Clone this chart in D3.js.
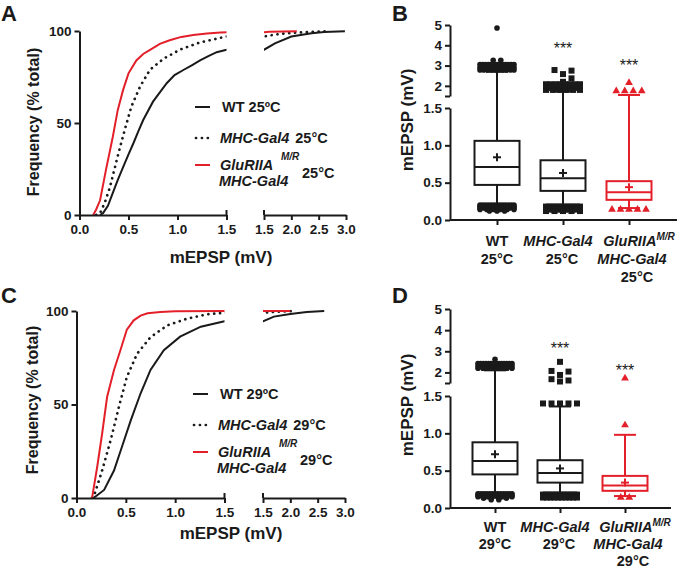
<!DOCTYPE html>
<html><head><meta charset="utf-8">
<script src="https://cdn.jsdelivr.net/npm/d3@7"></script>
<style>
body{margin:0;background:#fff}
svg{display:block}
</style>
</head><body>
<svg id="c" width="682" height="571"></svg>
<script>
// ---------------- DATA ----------------
// cumulative frequency curves: [mEPSP (mV), cumulative %]
const wtA  = [[0.21,0],[0.24,1],[0.29,5],[0.34,12],[0.39,19],[0.445,26],[0.5,33],[0.55,39],[0.6,45.5],[0.65,51.6],[0.75,61.6],[0.89,71.6],[0.97,76],[1.06,78.8],[1.15,81.5],[1.23,84],[1.32,86.5],[1.40,88.5],[1.5,89.8],[1.7,93.3],[2.0,97],[2.37,98.8],[2.6,99.5],[2.98,99.8]];
const mhcA = [[0.17,0],[0.21,1],[0.26,7],[0.31,15],[0.39,32],[0.46,46],[0.53,59],[0.62,70],[0.72,79],[0.86,85],[1.03,90],[1.23,93.8],[1.5,97],[1.8,98.5],[2.2,99.3],[2.65,99.8]];
const gluA = [[0.14,0],[0.17,3],[0.21,8],[0.27,24.5],[0.34,42.5],[0.39,57],[0.445,68],[0.50,77],[0.58,84],[0.65,87.5],[0.72,89.7],[0.82,93],[0.92,95],[1.04,96.8],[1.16,97.8],[1.3,98.6],[1.44,99.2],[1.6,99.6],[2.1,99.8]];
const wtC  = [[0.17,0],[0.19,0.7],[0.28,4.3],[0.38,14.7],[0.46,27.3],[0.55,41.5],[0.65,56],[0.75,68.5],[0.885,79],[1.05,86.3],[1.26,91.6],[1.5,94.5],[1.7,97],[2.0,98.4],[2.3,99.5],[2.62,100]];
const mhcC = [[0.16,0],[0.175,0.7],[0.26,14.7],[0.345,30.7],[0.43,48.7],[0.51,64.7],[0.615,77.2],[0.75,86],[0.92,92.3],[1.12,95.9],[1.32,98.2],[1.49,99],[1.7,99.5],[2.1,100]];
const gluC = [[0.15,0],[0.16,0.7],[0.21,16.7],[0.26,34.5],[0.31,54],[0.38,68.5],[0.445,79],[0.51,90],[0.58,95],[0.65,97.5],[0.72,98.8],[0.85,99.5],[1.0,99.8],[1.5,100],[2.0,100]];

const cdfTicks1 = [0, 0.5, 1.0, 1.5];
const cdfTicks2 = [1.5, 2.0, 2.5, 3.0];
const freqTicks = [0, 50, 100];

// box plots: [low whisker, Q1, median, Q3, high whisker]
const boxCats = ["WT", "MHC", "GluRIIA"];
const boxLowTicks = [0, 0.5, 1.0, 1.5];
const boxHighTicks = [1.5, 2, 3, 4, 5];

const wtB_box  = [0.20, 0.47, 0.71, 1.06, 2.70];  const wtB_mean  = 0.84;
const mhcB_box = [0.19, 0.39, 0.56, 0.80, 1.72];  const mhcB_mean = 0.63;
const gluB_box = [0.16, 0.27, 0.37, 0.52, 1.55];  const gluB_mean = 0.44;
const wtD_box  = [0.20, 0.45, 0.63, 0.88, 2.10];  const wtD_mean  = 0.72;
const mhcD_box = [0.18, 0.34, 0.47, 0.64, 1.36];  const mhcD_mean = 0.53;
const gluD_box = [0.16, 0.23, 0.30, 0.43, 0.98];  const gluD_mean = 0.34;

// outliers: [value, number of points at that value]
const wtB_out  = [[0.20,13],[0.18,12],[0.16,9],[0.14,6],[0.12,3],[2.78,10],[2.9,13],[3.05,13],[3.26,2],[4.85,1]];
const mhcB_out = [[0.18,12],[0.16,12],[0.14,10],[0.12,5],[1.8,6],[1.9,10],[2.0,12],[2.08,8],[2.2,1],[2.37,1],[2.58,1],[2.75,1],[2.78,1]];
const gluB_out = [[0.14,5],[1.75,4],[2.15,1]];
const wtD_out  = [[0.19,13],[0.17,12],[0.15,8],[0.13,4],[0.11,2],[2.2,8],[2.3,12],[2.42,14],[2.62,1]];
const mhcD_out = [[0.18,12],[0.16,12],[0.14,10],[1.4,5],[1.57,1],[1.62,1],[1.68,1],[1.88,1],[2.04,1],[2.07,1],[2.5,1]];
const gluD_out = [[0.14,2],[1.11,1],[1.72,1]];

// ---------------- DRAWING ----------------
const FONT = "'Liberation Sans', Arial, Helvetica, sans-serif";
const INK = "#1a1a1a";
const RED = "#e3202a";
const svg = d3.select("#c");
const defs = svg.append("defs");

function styleAxis(g, fs) {
  g.attr("font-family", FONT).attr("font-size", fs || 13).attr("font-weight", "bold");
  g.select(".domain").attr("stroke", INK).attr("stroke-width", 2);
  g.selectAll(".tick line").attr("stroke", INK).attr("stroke-width", 2);
  g.selectAll(".tick text").attr("fill", INK);
}
function txt(g, x, y, s, o) {
  o = o || {};
  return g.append("text").attr("x", x).attr("y", y).text(s)
    .attr("font-family", FONT).attr("font-weight", o.weight || "bold")
    .attr("font-size", o.size || 13).attr("fill", o.fill || INK)
    .attr("font-style", o.italic ? "italic" : null)
    .attr("text-anchor", o.anchor || "start");
}

function cdfPanel(p) {
  const g = svg.append("g");
  const xs1 = d3.scaleLinear().domain([0, 1.5]).range(p.x1);
  const xs2 = d3.scaleLinear().domain([1.5, 3.0]).range(p.x2);
  const ys = d3.scaleLinear().domain([0, 100]).range(p.y);
  [[p.id + "a", p.x1], [p.id + "b", p.x2]].forEach(([id, r]) => {
    defs.append("clipPath").attr("id", id).append("rect")
      .attr("x", r[0]).attr("y", p.y[1] - 6).attr("width", r[1] - r[0]).attr("height", p.y[0] - p.y[1] + 6);
  });
  const series = [
    {data: p.mhc, color: INK, dash: "0.1,5.8"},
    {data: p.wt, color: INK},
    {data: p.glu, color: RED}
  ];
  series.forEach(s => {
    [[xs1, p.id + "a"], [xs2, p.id + "b"]].forEach(([xs, id]) => {
      g.append("path").datum(s.data)
        .attr("clip-path", `url(#${id})`)
        .attr("d", d3.line().x(d => xs(d[0])).y(d => ys(d[1])))
        .attr("fill", "none").attr("stroke", s.color)
        .attr("stroke-width", s.dash ? 2.7 : 2)
        .attr("stroke-dasharray", s.dash || null)
        .attr("stroke-linecap", s.dash ? "round" : "butt");
    });
  });
  // axes
  const ya = g.append("g").attr("transform", `translate(${p.x1[0]},0)`)
    .call(d3.axisLeft(ys).tickValues(freqTicks).tickSize(5).tickSizeOuter(0).tickPadding(3));
  styleAxis(ya, 13.5);
  const xa1 = g.append("g").attr("transform", `translate(0,${p.y[0]})`)
    .call(d3.axisBottom(xs1).tickValues(cdfTicks1).tickFormat(d3.format(".1f")).tickSize(5).tickSizeOuter(0).tickPadding(4));
  styleAxis(xa1, 13.5);
  const xa2 = g.append("g").attr("transform", `translate(0,${p.y[0]})`)
    .call(d3.axisBottom(xs2).tickValues(cdfTicks2).tickFormat(d3.format(".1f")).tickSize(5).tickSizeOuter(0).tickPadding(4));
  styleAxis(xa2, 13.5);
  [xs1(1.5), xs2(1.5)].forEach(x => {
    g.append("line").attr("x1", x).attr("x2", x).attr("y1", p.y[0] - 5).attr("y2", p.y[0])
      .attr("stroke", INK).attr("stroke-width", 2);
  });
  // titles
  txt(g, 0, 0, "Frequency (% total)", {size: 16, anchor: "middle"})
    .attr("transform", `translate(${p.ylab[0]},${p.ylab[1]}) rotate(-90)`);
  txt(g, p.xlab[0], p.xlab[1], "mEPSP (mV)", {size: 17, anchor: "middle"});
  txt(g, p.letter[0], p.letter[1], p.letter[2], {size: 22});
  // legend
  const ox = p.leg[0], oy = p.leg[1], T = p.temp;
  g.append("line").attr("x1", ox).attr("x2", ox + 15).attr("y1", oy).attr("y2", oy).attr("stroke", INK).attr("stroke-width", 2);
  g.append("line").attr("x1", ox + 1).attr("x2", ox + 15).attr("y1", oy + 31).attr("y2", oy + 31)
    .attr("stroke", INK).attr("stroke-width", 2.7).attr("stroke-dasharray", "0.1,5.8").attr("stroke-linecap", "round");
  g.append("line").attr("x1", ox).attr("x2", ox + 15).attr("y1", oy + 58).attr("y2", oy + 58).attr("stroke", RED).attr("stroke-width", 2);
  txt(g, ox + 27, oy + 5, "WT " + T + "ºC", {size: 14.5});
  const t2 = txt(g, ox + 25, oy + 36, "", {size: 14.5});
  t2.append("tspan").attr("font-style", "italic").text("MHC-Gal4");
  t2.append("tspan").attr("dx", 6).text(T + "°C");
  txt(g, ox + 25, oy + 63, "GluRIIA", {size: 14.5, italic: true});
  txt(g, ox + 86, oy + 53, "M/R", {size: 10, italic: true});
  txt(g, ox + 24, oy + 79, "MHC-Gal4", {size: 14.5, italic: true});
  txt(g, ox + 107, oy + 71, T + "°C", {size: 14.5});
}

function boxPanel(p) {
  const g = svg.append("g");
  const xs = d3.scalePoint().domain(boxCats).range(p.xr);
  const yl = d3.scaleLinear().domain([0, 1.5]).range(p.yl);
  const yu = d3.scaleLinear().domain([1.5, 5]).range(p.yu);
  const yf = v => v <= 1.5 ? yl(v) : yu(v);
  const ax = p.ax;
  const la = g.append("g").attr("transform", `translate(${ax},0)`)
    .call(d3.axisLeft(yl).tickValues(boxLowTicks).tickFormat(d3.format(".1f")).tickSize(5).tickSizeOuter(0).tickPadding(3));
  styleAxis(la, 13.5);
  const ua = g.append("g").attr("transform", `translate(${ax},0)`)
    .call(d3.axisLeft(yu).tickValues(boxHighTicks).tickFormat(d => d === 1.5 ? "" : d).tickSize(5).tickSizeOuter(0).tickPadding(3));
  styleAxis(ua, 13.5);
  const xa = g.append("g").attr("transform", `translate(0,${yl(0)})`)
    .call(d3.axisBottom(xs).tickSize(5).tickFormat(""));
  xa.select(".domain").remove();
  styleAxis(xa, 13);
  g.append("line").attr("x1", ax).attr("x2", p.xEnd).attr("y1", yl(0)).attr("y2", yl(0)).attr("stroke", INK).attr("stroke-width", 2);

  const bw = 45, cw = 22, maxW = 34;
  p.series.forEach(s => {
    const cx = xs(s.cat), c = s.color, b = s.box;
    const sg = g.append("g").attr("stroke", c).attr("stroke-width", 2).attr("fill", "none");
    sg.append("line").attr("x1", cx).attr("x2", cx).attr("y1", yf(b[3])).attr("y2", yf(b[4]));
    sg.append("line").attr("x1", cx).attr("x2", cx).attr("y1", yf(b[1])).attr("y2", yf(b[0]));
    [b[0], b[4]].forEach(v => sg.append("line").attr("x1", cx - cw / 2).attr("x2", cx + cw / 2).attr("y1", yf(v)).attr("y2", yf(v)));
    sg.append("rect").attr("x", cx - bw / 2).attr("y", yf(b[3])).attr("width", bw).attr("height", yf(b[1]) - yf(b[3])).attr("fill", "#fff");
    sg.append("line").attr("x1", cx - bw / 2).attr("x2", cx + bw / 2).attr("y1", yf(b[2])).attr("y2", yf(b[2]));
    const my = yf(s.mean);
    sg.append("line").attr("x1", cx - 4).attr("x2", cx + 4).attr("y1", my).attr("y2", my);
    sg.append("line").attr("x1", cx).attr("x2", cx).attr("y1", my - 4).attr("y2", my + 4);
    // outliers
    const size = s.sym === "circle" ? 5.6 : 6.5;
    const slot = size + 2;
    const pts = [];
    const sparse = [];
    s.out.forEach(([v, n]) => {
      const y = yf(v);
      if (n === 1) {
        for (let k = 0; k < 30; k++) {
          const off = (k % 2 === 1 ? 1 : -1) * Math.ceil(k / 2) * slot;
          const x = cx + off;
          if (!sparse.some(q => Math.abs(q.x - x) < size && Math.abs(q.y - y) < size)) {
            pts.push({x, y}); sparse.push({x, y}); break;
          }
        }
      } else {
        const sp = Math.min(slot, maxW / (n - 1));
        for (let i = 0; i < n; i++) {
          const q = {x: cx + (i - (n - 1) / 2) * sp, y};
          pts.push(q);
          if (n <= 5) sparse.push(q);
        }
      }
    });
    const symType = s.sym === "circle" ? d3.symbolCircle : s.sym === "square" ? d3.symbolSquare : d3.symbolTriangle;
    const area = s.sym === "circle" ? Math.PI * 2.8 * 2.8 : s.sym === "square" ? 36 : 26;
    g.append("g").selectAll("path").data(pts).join("path")
      .attr("transform", d => `translate(${d.x},${d.y})`)
      .attr("d", d3.symbol(symType, area)).attr("fill", c);
    if (s.star) txt(g, cx, s.star, "***", {size: 16, weight: "normal", anchor: "middle"});
  });
  // category labels
  const L = p.lab, T = p.temp, fs = 14.5;
  const cW = xs("WT"), cM = xs("MHC"), cG = xs("GluRIIA");
  txt(g, cW, L[0], "WT", {size: fs, anchor: "middle"});
  txt(g, cW, L[1], T + "°C", {size: fs, anchor: "middle"});
  txt(g, cM - 5, L[0], "MHC-Gal4", {size: fs, anchor: "middle", italic: true});
  txt(g, cM - 1, L[1], T + "°C", {size: fs, anchor: "middle"});
  const gl = txt(g, cG + 10, L[0], "", {size: fs, anchor: "middle", italic: true});
  gl.append("tspan").text("GluRIIA");
  gl.append("tspan").attr("font-size", 10).attr("dy", -6).text("M/R");
  txt(g, cG + 3, L[1], "MHC-Gal4", {size: fs, anchor: "middle", italic: true});
  txt(g, cG + 8, L[2], T + "°C", {size: fs, anchor: "middle"});
  txt(g, 0, 0, "mEPSP (mV)", {size: 17, anchor: "middle"})
    .attr("transform", `translate(${p.ylab[0]},${p.ylab[1]}) rotate(-90)`);
  txt(g, p.letter[0], p.letter[1], p.letter[2], {size: 22});
}

cdfPanel({id: "A", x1: [79.5, 226.5], x2: [264, 346], y: [215, 31], wt: wtA, mhc: mhcA, glu: gluA,
  ylab: [39, 122], xlab: [221, 263], letter: [1, 20.5, "A"], leg: [195, 107], temp: "25"});
cdfPanel({id: "C", x1: [76.5, 224.5], x2: [263, 345], y: [498, 311], wt: wtC, mhc: mhcC, glu: gluC,
  ylab: [38, 400], xlab: [231, 539], letter: [1, 303, "C"], leg: [193, 394], temp: "29"});

boxPanel({ax: 450, xEnd: 677, xr: [497, 629], yl: [220, 108], yu: [96, 25], temp: "25",
  lab: [246, 264, 282], ylab: [413, 120], letter: [392, 20.5, "B"],
  series: [
    {cat: "WT", box: wtB_box, mean: wtB_mean, out: wtB_out, sym: "circle", color: INK},
    {cat: "MHC", box: mhcB_box, mean: mhcB_mean, out: mhcB_out, sym: "square", color: INK, star: 54},
    {cat: "GluRIIA", box: gluB_box, mean: gluB_mean, out: gluB_out, sym: "triangle", color: RED, star: 71}
  ]});
boxPanel({ax: 450, xEnd: 671, xr: [495, 625], yl: [508, 396], yu: [383, 309], temp: "29",
  lab: [532, 549, 566], ylab: [413, 405], letter: [392, 303, "D"],
  series: [
    {cat: "WT", box: wtD_box, mean: wtD_mean, out: wtD_out, sym: "circle", color: INK},
    {cat: "MHC", box: mhcD_box, mean: mhcD_mean, out: mhcD_out, sym: "square", color: INK, star: 354},
    {cat: "GluRIIA", box: gluD_box, mean: gluD_mean, out: gluD_out, sym: "triangle", color: RED, star: 376}
  ]});
</script>
</body></html>
